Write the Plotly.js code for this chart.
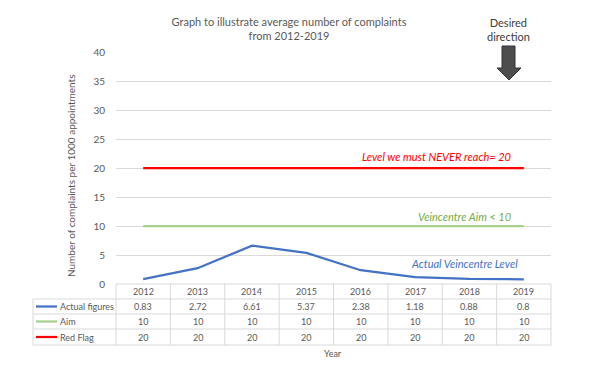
<!DOCTYPE html>
<html>
<head>
<meta charset="utf-8">
<script src="https://cdn.plot.ly/plotly-3.0.1.min.js"></script>
<style>html,body{margin:0;padding:0;background:#fff;}#chart{width:600px;height:384px;}</style>
</head>
<body>
<div id="chart"></div>
<script>
// ---- data ----
var years = ['2012', '2013', '2014', '2015', '2016', '2017', '2018', '2019'];
var actualFigures = [0.83, 2.72, 6.61, 5.37, 2.38, 1.18, 0.88, 0.8];
var aim = [10, 10, 10, 10, 10, 10, 10, 10];
var redFlag = [20, 20, 20, 20, 20, 20, 20, 20];
var seriesNames = ['Actual figures', 'Aim', 'Red Flag'];
var seriesLabels = ['Actual Veincentre Level', 'Veincentre Aim < 10', 'Level we must NEVER reach= 20'];
var yTicks = [0, 5, 10, 15, 20, 25, 30, 35, 40];

// ---- layout helpers (pixel -> paper) ----
var L = 116, R = 551, T = 52, B = 284;
function px(p) { return (p - L) / (R - L); }
function py(p) { return (B - p) / (B - T); }

var colors = ['#4472C4', '#A9D18E', '#FF0000'];
var textColors = ['#4472C4', '#70AD47', '#FF0000'];
var seriesData = [actualFigures, aim, redFlag];
var FONT = 'Lato, "Open Sans", sans-serif';
var grey = '#595959';
var gridC = '#D9D9D9';

var traces = seriesData.map(function (vals, k) {
  return {
    x: years, y: vals, type: 'scatter', mode: 'lines',
    name: seriesNames[k],
    line: {color: colors[k], width: 2.25},
    hoverinfo: 'skip'
  };
});
// draw red on top order like Excel: actual, aim, red
var shapes = [];
var annotations = [];

// table grid
var rowEdges = [284, 299, 314, 329, 345];
var rowCenters = [291.5, 306.5, 321.5, 337];
// horizontal lines
shapes.push({type: 'line', xref: 'paper', yref: 'paper', x0: 0, x1: 1, y0: py(284), y1: py(284), line: {color: gridC, width: 1}});
for (var r = 1; r < rowEdges.length; r++) {
  shapes.push({type: 'line', xref: 'paper', yref: 'paper', x0: px(33), x1: 1, y0: py(rowEdges[r]), y1: py(rowEdges[r]), line: {color: gridC, width: 1}});
}
// vertical lines
for (var i = 0; i <= years.length; i++) {
  shapes.push({type: 'line', xref: 'paper', yref: 'paper', x0: i / years.length, x1: i / years.length, y0: py(284), y1: py(345), line: {color: gridC, width: 1}});
}
shapes.push({type: 'line', xref: 'paper', yref: 'paper', x0: px(33), x1: px(33), y0: py(299), y1: py(345), line: {color: gridC, width: 1}});

// header row: years
years.forEach(function (yr, i) {
  annotations.push({xref: 'x', yref: 'paper', x: i, y: py(rowCenters[0]), text: yr, showarrow: false,
    xanchor: 'center', yanchor: 'middle', font: {family: FONT, size: 9, color: grey}});
});
// series rows
seriesData.forEach(function (vals, k) {
  var yc = py(rowCenters[k + 1]);
  shapes.push({type: 'line', xref: 'paper', yref: 'paper', x0: px(36), x1: px(57), y0: yc, y1: yc, line: {color: colors[k], width: 2.25}});
  annotations.push({xref: 'paper', yref: 'paper', x: px(58), y: yc, text: seriesNames[k], showarrow: false,
    xanchor: 'left', yanchor: 'middle', font: {family: FONT, size: 9, color: grey}});
  vals.forEach(function (v, i) {
    annotations.push({xref: 'x', yref: 'paper', x: i, y: yc, text: String(v), showarrow: false,
      xanchor: 'center', yanchor: 'middle', font: {family: FONT, size: 9, color: grey}});
  });
});

// series text labels on the plot
var labelY = [3.6, 11.7, 21.9];
seriesLabels.forEach(function (t, k) {
  annotations.push({xref: 'paper', yref: 'y', x: px(k === 0 ? 520 : 513), y: labelY[k], text: '<i>' + t + '</i>', showarrow: false,
    xanchor: 'right', yanchor: 'middle', font: {family: FONT, size: 11, color: textColors[k]}});
});

// y axis title
annotations.push({xref: 'paper', yref: 'paper', x: px(71), y: py(176), text: 'Number of complaints per 1000 appointments',
  textangle: -90, showarrow: false, xanchor: 'center', yanchor: 'middle', font: {family: FONT, size: 10, color: grey}});
// x axis title
annotations.push({xref: 'paper', yref: 'paper', x: px(333), y: py(353), text: 'Year', showarrow: false,
  xanchor: 'center', yanchor: 'middle', font: {family: FONT, size: 9, color: grey}});
// desired direction
annotations.push({xref: 'paper', yref: 'paper', x: px(508), y: py(29.5), text: 'Desired<br>direction', showarrow: false,
  xanchor: 'center', yanchor: 'middle', font: {family: FONT, size: 11, color: '#404040'}});
// arrow
var ap = [[502, 46], [515, 46], [515, 68], [521, 68], [509, 80], [497, 68], [502, 68]];
var path = 'M ' + ap.map(function (p) { return px(p[0]) + ',' + py(p[1]); }).join(' L ') + ' Z';
shapes.push({type: 'path', xref: 'paper', yref: 'paper', path: path, fillcolor: '#4D4D4D', line: {color: '#333333', width: 1}});

var layout = {
  width: 600, height: 384,
  margin: {l: L, r: 600 - R, t: T, b: 384 - B, pad: 0},
  paper_bgcolor: '#ffffff', plot_bgcolor: '#ffffff',
  showlegend: false,
  title: {text: 'Graph to illustrate average number of complaints<br>from 2012-2019',
    x: 289 / 600, xanchor: 'center', xref: 'container', y: 1 - 25.5 / 384, yanchor: 'middle', yref: 'container',
    font: {family: FONT, size: 11, color: grey}},
  xaxis: {type: 'category', range: [-0.5, 7.5], showticklabels: false, showgrid: false, zeroline: false,
    showline: false, ticks: '', fixedrange: true},
  yaxis: {range: [0, 40], tickvals: yTicks, ticktext: yTicks.map(String), showgrid: true, gridcolor: gridC, gridwidth: 1,
    zeroline: false, showline: false, ticks: 'outside', ticklen: 8, tickcolor: 'rgba(0,0,0,0)',
    tickfont: {family: FONT, size: 10, color: grey}, fixedrange: true},
  shapes: shapes,
  annotations: annotations
};

Plotly.newPlot('chart', traces, layout, {displayModeBar: false, staticPlot: true});
</script>
</body>
</html>
